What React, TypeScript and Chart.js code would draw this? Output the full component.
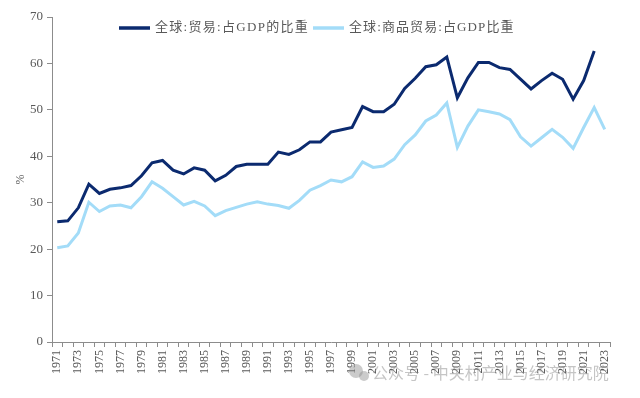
import React, { useEffect, useRef } from "react";
import { Chart, registerables } from "chart.js";

Chart.register(...registerables);

const years = [
  "1971", "1972", "1973", "1974", "1975", "1976", "1977", "1978", "1979", "1980",
  "1981", "1982", "1983", "1984", "1985", "1986", "1987", "1988", "1989", "1990",
  "1991", "1992", "1993", "1994", "1995", "1996", "1997", "1998", "1999", "2000",
  "2001", "2002", "2003", "2004", "2005", "2006", "2007", "2008", "2009", "2010",
  "2011", "2012", "2013", "2014", "2015", "2016", "2017", "2018", "2019", "2020",
  "2021", "2022", "2023",
];

const tradeShare = [
  25.9, 26.1, 28.9, 34.0, 32.0, 32.9, 33.2, 33.7, 35.8, 38.6,
  39.1, 37.0, 36.2, 37.5, 37.0, 34.7, 35.9, 37.8, 38.3, 38.3,
  38.3, 40.9, 40.4, 41.4, 43.1, 43.1, 45.2, 45.7, 46.2, 50.7,
  49.6, 49.6, 51.2, 54.6, 56.8, 59.3, 59.7, 61.4, 52.6, 56.9,
  60.2, 60.2, 59.1, 58.7, 56.6, 54.5, 56.3, 57.9, 56.6, 52.3,
  56.3, 62.7, null,
];

const goodsShare = [
  20.3, 20.7, 23.5, 30.1, 28.1, 29.3, 29.5, 28.9, 31.3, 34.5,
  33.1, 31.3, 29.5, 30.3, 29.3, 27.2, 28.3, 29.0, 29.7, 30.2,
  29.7, 29.4, 28.8, 30.5, 32.7, 33.7, 34.9, 34.5, 35.6, 38.8,
  37.6, 37.9, 39.4, 42.5, 44.6, 47.6, 48.9, 51.5, 41.9, 46.5,
  50.0, 49.6, 49.1, 47.9, 44.2, 42.2, 44.0, 45.8, 44.1, 41.7,
  46.2, 50.5, 45.8,
];

const seriesNames = ["全球:贸易:占GDP的比重", "全球:商品贸易:占GDP比重"];
const seriesColors = ["#0b2a6f", "#a3dcf8"];
const yTicks = { min: 0, max: 70, step: 10 };
const watermark = "公众号 - 中关村产业与经济研究院";

const FONT = "'Liberation Serif', 'Noto Sans CJK SC', serif";
const GRAY = "#595959";
const AXIS = "#8c8c8c";

const legendPlugin = {
  id: "customLegend",
  afterDraw(chart: any) {
    const ctx = chart.ctx;
    ctx.save();
    const y = 28;
    const items = [
      { x: 119, text: seriesNames[0], color: seriesColors[0], sp: "1.3px" },
      { x: 313, text: seriesNames[1], color: seriesColors[1], sp: "1.1px" },
    ];
    ctx.font = "13px " + FONT;
    ctx.textBaseline = "middle";
    items.forEach((it) => {
      ctx.strokeStyle = it.color;
      ctx.lineWidth = 3.5;
      ctx.beginPath();
      ctx.moveTo(it.x, y);
      ctx.lineTo(it.x + 31, y);
      ctx.stroke();
      ctx.fillStyle = GRAY;
      (ctx as any).letterSpacing = it.sp;
      ctx.fillText(it.text, it.x + 36, y);
    });
    (ctx as any).letterSpacing = "0px";
    // watermark
    ctx.fillStyle = "rgba(140,140,140,0.45)";
    ctx.beginPath();
    ctx.arc(356, 371, 7, 0, Math.PI * 2);
    ctx.fill();
    ctx.beginPath();
    ctx.arc(364, 376, 5, 0, Math.PI * 2);
    ctx.fill();
    ctx.font = "16px 'Noto Sans CJK SC', sans-serif";
    ctx.fillStyle = "rgba(140,140,140,0.5)";
    ctx.fillText(watermark, 372, 373);
    ctx.restore();
  },
};

export default function App() {
  const ref = useRef<HTMLCanvasElement | null>(null);

  useEffect(() => {
    document.body.style.margin = "0";
    const canvas = ref.current;
    if (!canvas) return;
    const chart = new Chart(canvas, {
      type: "line",
      data: {
        labels: years,
        datasets: [
          {
            label: seriesNames[0],
            data: tradeShare,
            borderColor: seriesColors[0],
            backgroundColor: seriesColors[0],
            borderWidth: 3,
            pointRadius: 0,
            tension: 0,
            spanGaps: false,
          },
          {
            label: seriesNames[1],
            data: goodsShare,
            borderColor: seriesColors[1],
            backgroundColor: seriesColors[1],
            borderWidth: 3,
            pointRadius: 0,
            tension: 0,
          },
        ],
      },
      options: {
        animation: false,
        responsive: false,
        maintainAspectRatio: false,
        layout: { padding: { left: 10, top: 17, right: 30, bottom: 0 } },
        plugins: {
          legend: { display: false },
          tooltip: { enabled: false },
        },
        scales: {
          x: {
            type: "category",
            offset: true,
            grid: {
              offset: true,
              drawOnChartArea: false,
              drawTicks: true,
              tickLength: 5,
              color: AXIS,
            },
            border: { display: true, color: AXIS },
            ticks: {
              autoSkip: false,
              minRotation: 90,
              maxRotation: 90,
              padding: 3,
              color: GRAY,
              font: { family: FONT, size: 12 },
              callback: (_v: any, i: number) => (i % 2 === 0 ? years[i] : ""),
            },
            afterFit: (scale: any) => {
              scale.height = 56;
            },
          },
          y: {
            min: yTicks.min,
            max: yTicks.max,
            grid: {
              drawOnChartArea: false,
              drawTicks: true,
              tickLength: 5,
              color: AXIS,
            },
            border: { display: true, color: AXIS },
            ticks: {
              stepSize: yTicks.step,
              padding: 4,
              color: GRAY,
              font: { family: FONT, size: 13 },
            },
            title: {
              display: true,
              text: "%",
              color: GRAY,
              font: { family: FONT, size: 12 },
              padding: { top: 4, bottom: 0 },
            },
            afterFit: (scale: any) => {
              scale.width = 42;
            },
          },
        },
      },
      plugins: [legendPlugin],
    });
    return () => chart.destroy();
  }, []);

  return (
    <div style={{ width: 640, height: 398, background: "#fff" }}>
      <canvas ref={ref} width={640} height={398} style={{ display: "block" }} />
    </div>
  );
}
